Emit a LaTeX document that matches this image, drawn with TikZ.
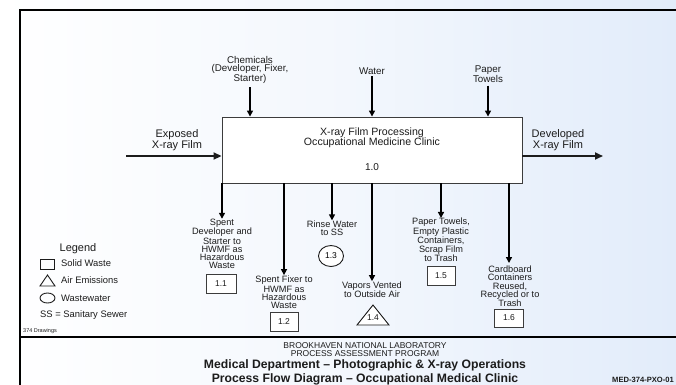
\documentclass[tikz,border=0pt]{standalone}
\usepackage{fontspec}
\setmainfont{Liberation Sans}
\usetikzlibrary{arrows.meta,shapes.geometric,calc}
\definecolor{bgblue}{RGB}{226,236,250}
\definecolor{ink}{RGB}{28,28,28}
\definecolor{boxline}{RGB}{60,60,60}
\begin{document}
\begin{tikzpicture}[x=1pt,y=-1pt,
  lbl/.style={font=\fontsize{9.2}{8.2}\selectfont, align=center, inner sep=0pt, text=ink},
  toplbl/.style={font=\fontsize{9.8}{8.7}\selectfont, align=center, inner sep=0pt, text=ink},
  biglbl/.style={font=\fontsize{11}{10}\selectfont, align=center, inner sep=0pt, text=ink},
  leglbl/.style={font=\fontsize{9.4}{9}\selectfont, anchor=west, inner sep=0pt, text=ink},
  idbox/.style={draw=boxline, line width=0.8pt, fill=white, minimum width=28pt, minimum height=19pt, inner sep=0pt, font=\fontsize{8.5}{8.5}\selectfont, text=ink},
  idtext/.style={inner sep=0pt, font=\fontsize{8.5}{8.5}\selectfont, text=ink},
  arr/.style={line width=1.4pt, draw=black, -{Triangle[length=6pt,width=6pt]}},
  flow/.style={line width=1.8pt, draw=ink, -{Triangle[length=8pt,width=7pt]}},
  frame/.style={line width=2.6pt, draw=black},
  foot/.style={font=\fontsize{8.5}{8.5}\selectfont, inner sep=0pt, text=ink},
  footbold/.style={font=\bfseries\fontsize{12.2}{12}\selectfont, inner sep=0pt, text=ink}
]
\useasboundingbox (0,0) rectangle (676,384);
\clip (0,0) rectangle (676,384);
\shade[left color=white, right color=bgblue, middle color=white!60!bgblue] (0,0) rectangle (676,384);

% frame
\draw[frame] (700,10) -- (20,10) -- (20,400);
\draw[frame] (20,337) -- (700,337);

% main process box
\node[draw=boxline, line width=0.9pt, fill=white, minimum width=300pt, minimum height=66pt, inner sep=0pt] (proc) at (372,150) {};
\node[biglbl, font=\fontsize{10.6}{10}\selectfont] (ptitle) at (372,137.5) {X-ray Film Processing\\Occupational Medicine Clinic};
\node[biglbl, font=\fontsize{10}{10}\selectfont] (pid) at (372,167) {1.0};

% inputs
\node[toplbl] (chem) at (250,70) {Chemicals\\(Developer, Fixer,\\Starter)};
\node[toplbl] (water) at (372,71) {Water};
\node[toplbl] (ptow) at (488,74) {Paper\\Towels};
\draw[arr, shorten <=3pt] (chem.south) -- (chem.south |- proc.north);
\draw[arr, shorten <=1.5pt] (water.south) -- (water.south |- proc.north);
\draw[arr, shorten <=3pt] (ptow.south) -- (ptow.south |- proc.north);

\node[biglbl] (exp) at (177,140.5) {Exposed\\X-ray Film};
\node[biglbl] (dev) at (558,140.5) {Developed\\X-ray Film};
\coordinate (expin) at (126,156);
\coordinate (devout) at (603,156);
\draw[flow] (expin) -- (expin -| proc.west);
\draw[flow] (devout -| proc.east) -- (devout);

% outputs
\node[lbl] (sdev) at (222,244) {Spent\\Developer and\\Starter to\\HWMF as\\Hazardous\\Waste};
\node[idbox, minimum width=30pt] (b11) at (221,284) {1.1};

\node[lbl] (sfix) at (284,292.5) {Spent Fixer to\\HWMF as\\Hazardous\\Waste};
\node[idbox] (b12) at (284,322) {1.2};

\node[lbl] (rinse) at (332,228) {Rinse Water\\to SS};
\node[draw=ink, line width=0.9pt, ellipse, minimum width=25pt, minimum height=21pt, inner sep=0pt, fill=white, font=\fontsize{8.5}{8.5}\selectfont] (c13) at (331,256) {1.3};

\node[lbl] (vap) at (372,289.5) {Vapors Vented\\to Outside Air};
\coordinate (t14) at (373,317);
\draw[draw=ink, line width=0.9pt, fill=white, line join=miter] ($(t14)+(0,-12)$) -- ($(t14)+(16,8)$) -- ($(t14)+(-16,8)$) -- cycle;
\node[idtext] (t14lbl) at ($(t14)+(0,0.5)$) {1.4};

\node[lbl] (ptt) at (441,240) {Paper Towels,\\Empty Plastic\\Containers,\\Scrap Film\\to Trash};
\node[idbox] (b15) at (441,275.5) {1.5};

\node[lbl] (card) at (510,286.5) {Cardboard\\Containers\\Reused,\\Recycled or to\\Trash};
\node[idbox, minimum width=29pt, minimum height=18pt] (b16) at (509,318) {1.6};

\draw[arr] (sdev.north |- proc.south) -- (sdev.north);
\draw[arr] (proc.south -| sfix.north) -- ($(sfix.north)+(0,-1)$);
\draw[arr] (rinse.north |- proc.south) -- (rinse.north);
\draw[arr] (vap.north |- proc.south) -- (vap.north);
\draw[arr] (ptt.north |- proc.south) -- (ptt.north);
\coordinate (cardtop) at (509,263);
\draw[arr] (cardtop |- proc.south) -- (cardtop);

% legend
\node[font=\fontsize{11}{11}\selectfont, inner sep=0pt, text=ink] (legt) at (78,249) {Legend};
\node[draw=ink, line width=0.9pt, minimum width=14pt, minimum height=10pt, inner sep=0pt] (lsq) at (47,264) {};
\node[leglbl] (lsw) at (61,263.5) {Solid Waste};
\coordinate (ltri) at (47.5,281);
\draw[draw=ink, line width=0.9pt, line join=miter] ($(ltri)+(0,-6)$) -- ($(ltri)+(7.5,5)$) -- ($(ltri)+(-7.5,5)$) -- cycle;
\node[leglbl] (lae) at (61,280) {Air Emissions};
\node[draw=ink, line width=0.9pt, ellipse, minimum width=15pt, minimum height=10pt, inner sep=0pt] (lel) at (47.5,298) {};
\node[leglbl] (lww) at (61,298) {Wastewater};
\node[leglbl] (lss) at (40,315.5) {SS = Sanitary Sewer};
\node[font=\fontsize{5.5}{5.5}\selectfont, anchor=west, inner sep=0pt, text=ink] (draw374) at (23,331) {374 Drawings};

% footer
\node[foot] (f1) at (365,346) {BROOKHAVEN NATIONAL LABORATORY};
\node[foot] (f2) at (365,354) {PROCESS ASSESSMENT PROGRAM};
\node[footbold] (f3) at (365,365.5) {Medical Department – Photographic \& X-ray Operations};
\node[footbold] (f4) at (365,379) {Process Flow Diagram – Occupational Medical Clinic};
\node[font=\bfseries\fontsize{7.6}{7.6}\selectfont, anchor=west, inner sep=0pt, text=ink] (f5) at (612,379.5) {MED-374-PXO-01};
\end{tikzpicture}
\end{document}
